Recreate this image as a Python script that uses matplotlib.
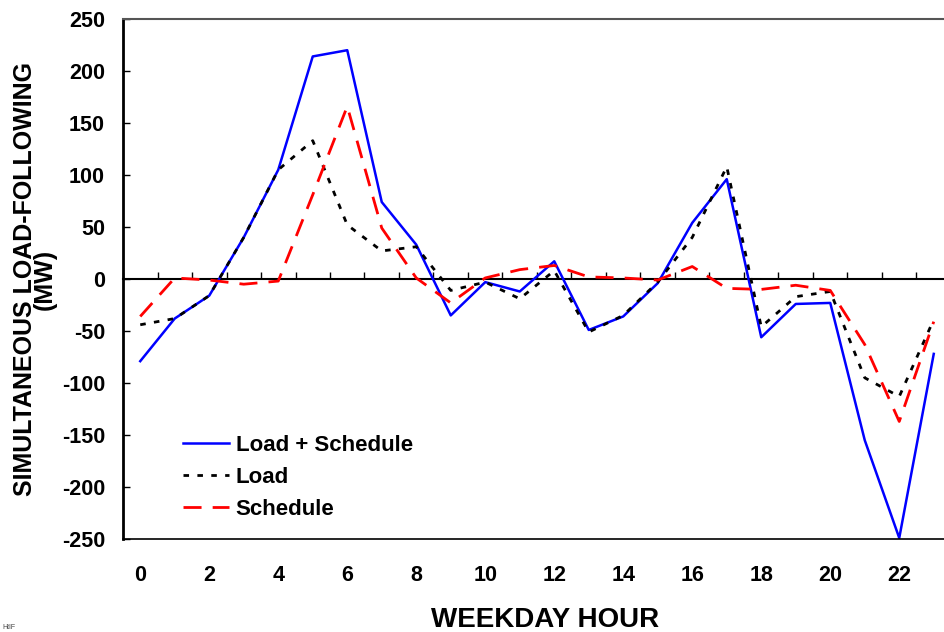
import numpy as np
import matplotlib
matplotlib.use('Agg')
import matplotlib.pyplot as plt

plt.rcParams['font.family'] = ['Liberation Sans', 'DejaVu Sans']
plt.rcParams['font.weight'] = 'bold'
plt.rcParams['axes.unicode_minus'] = False

# weekday hours and MW values
hours = list(range(24))
load_plus_schedule = [-79, -38, -16, 40, 105, 214, 220, 74, 33, -35, -3, -12,
                      17, -49, -36, -4, 54, 96, -56, -24, -23, -155, -249, -72]
load = [-44, -38, -16, 40, 105, 133, 52, 27, 31, -11, -3, -19,
        8, -51, -35, -3, 40, 108, -46, -17, -12, -95, -113, -39]
schedule = [-36, 1, -1, -5, -2, 81, 166, 49, 1, -23, 1, 9,
            13, 2, 1, -1, 12, -9, -10, -6, -11, -63, -137, -41]
x_ticks = list(range(0, 23, 2))
y_ticks = list(range(-250, 251, 50))

fig = plt.figure(figsize=(9.45, 6.32), dpi=100)
ax = fig.add_axes([123 / 945, 1 - 539 / 632, (951 - 123) / 945, (539 - 19) / 632])

ax.plot(hours, load_plus_schedule, color='#0000ff', lw=1.8, label='Load + Schedule')
ax.plot(hours, load, color='black', lw=2, dashes=(2, 3), label='Load')
ax.plot(hours, schedule, color='#ff0000', lw=2, dashes=(6.5, 4), label='Schedule')

ax.set_xlim(-0.5, 23.5)
ax.set_ylim(-250, 250)
ax.set_xticks(x_ticks)
ax.set_yticks(y_ticks)
ax.tick_params(axis='x', length=0, pad=19, labelsize=15.5)
ax.tick_params(axis='y', direction='in', length=5, width=1, pad=13, labelsize=15.5)

ax.spines['right'].set_visible(False)
ax.spines['top'].set_color('#555555')
ax.spines['top'].set_linewidth(1.5)
ax.spines['bottom'].set_linewidth(1.2)
ax.spines['left'].set_linewidth(2)

# zero line with category tick marks between hours
zero_axis = ax.secondary_xaxis(0.5)
zero_axis.set_xticks(np.arange(-0.5, 24, 1))
zero_axis.set_xticklabels([])
zero_axis.tick_params(direction='out', length=5, width=1)
zero_axis.spines['top'].set_linewidth(1.5)

ax.set_xlabel('WEEKDAY HOUR', fontsize=20, fontweight='bold')
ax.xaxis.set_label_coords((545 - 123) / 828, -0.131)
ax.set_ylabel('SIMULTANEOUS LOAD-FOLLOWING\n(MW)', fontsize=18, fontweight='bold',
              linespacing=0.8)
ax.yaxis.set_label_coords(-(123 - 57) / 828, 0.5)

ax.legend(loc='upper left', bbox_to_anchor=(183 / 945, 1 - 435 / 632),
          bbox_transform=fig.transFigure, frameon=False, fontsize=16,
          handlelength=2.07, handletextpad=0.3, labelspacing=0.5,
          borderpad=0, borderaxespad=0)

fig.text(0.003, 0.002, 'HtlF', fontsize=5, color='#444444', va='bottom', fontweight='normal')

fig.savefig('out.png', dpi=100)
